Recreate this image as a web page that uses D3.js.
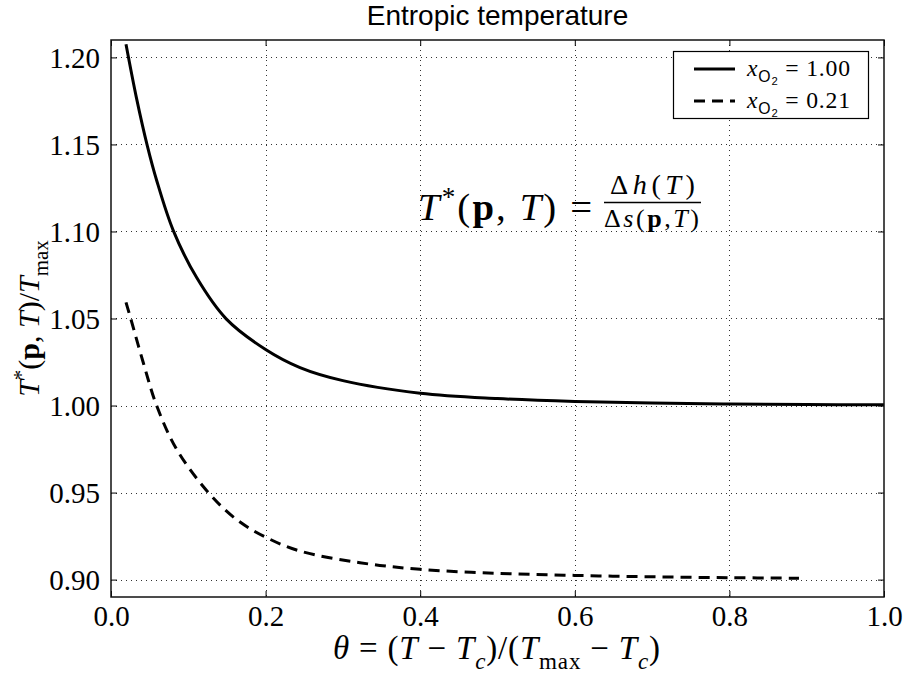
<!DOCTYPE html>
<html>
<head>
<meta charset="utf-8">
<script src="https://cdn.jsdelivr.net/npm/d3@7"></script>
<style>
  body { margin: 0; background: #fff; }
  svg { display: block; }
</style>
</head>
<body>
<script>
// values
const thetaO2 = [0.0194, 0.0332, 0.047, 0.0591, 0.0806, 0.1108, 0.149, 0.2, 0.2445, 0.3, 0.4, 0.5, 0.6, 0.7, 0.8, 0.9, 1.0];
const tempO2 = [1.2076, 1.1762, 1.1492, 1.1293, 1.1005, 1.0735, 1.0498, 1.0322, 1.0218, 1.0143, 1.0071, 1.0040, 1.0023, 1.0014, 1.0009, 1.0006, 1.0004];

const thetaAir = [0.0194, 0.0255, 0.0418, 0.059, 0.085, 0.126, 0.1625, 0.2, 0.2445, 0.322, 0.4, 0.5, 0.6, 0.7, 0.8, 0.89];
const tempAir = [1.0593, 1.05, 1.0246, 1.00, 0.9748, 0.95, 0.9345, 0.9244, 0.9164, 0.9097, 0.9059, 0.9036, 0.9024, 0.9016, 0.9011, 0.9008];

const xTicks = [0.0, 0.2, 0.4, 0.6, 0.8, 1.0];
const yTicks = [0.90, 0.95, 1.00, 1.05, 1.10, 1.15, 1.20];
const legendLabels = ["1.00", "0.21"];

const width = 904, height = 675;
const margin = {top: 40, right: 20, bottom: 78, left: 111};
const serif = "'Liberation Serif', 'Times New Roman', serif";
const sans = "'Liberation Sans', Arial, sans-serif";

const svg = d3.select("body").append("svg")
    .attr("width", width)
    .attr("height", height);

const x = d3.scaleLinear().domain([0, 1]).range([margin.left, width - margin.right]);
const y = d3.scaleLinear().domain([0.89, 1.21]).range([height - margin.bottom, margin.top]);

// writes a run of math-ish text pieces as tspans
function mathText(sel, parts, size) {
  let shift = 0;
  parts.forEach(p => {
    const s = p.size ? p.size : (p.sub || p.sup) ? size * 0.7 : size;
    const target = p.off !== undefined ? p.off : p.sub ? size * 0.3 : p.sup ? -size * 0.36 : 0;
    sel.append("tspan")
      .attr("dy", target - shift)
      .attr("font-size", s)
      .attr("font-style", p.it ? "italic" : "normal")
      .attr("font-weight", p.b ? "bold" : "normal")
      .attr("font-family", p.sans ? sans : serif)
      .text(p.t);
    shift = target;
  });
  return sel;
}

// Computer Modern is wider than Times: grow the text a bit, then pad the rest with spacing
function fit(sel, left, w, grow = 0.6) {
  const node = sel.node();
  const len0 = node.getComputedTextLength();
  const s = 1 + (w / len0 - 1) * grow;
  sel.selectAll("tspan").each(function() {
    const t = d3.select(this);
    t.attr("font-size", +t.attr("font-size") * s).attr("dy", +t.attr("dy") * s);
  });
  const len = node.getComputedTextLength();
  const n = node.textContent.length;
  sel.attr("letter-spacing", (w - len) / Math.max(1, n - 1)).attr("x", left);
  return sel;
}

// grid
const grid = svg.append("g")
    .attr("stroke", "#333")
    .attr("stroke-width", 1)
    .attr("stroke-dasharray", "1,4");
grid.selectAll(".gx").data(xTicks.slice(1, -1)).join("line")
    .attr("x1", d => Math.round(x(d)) + 0.5).attr("x2", d => Math.round(x(d)) + 0.5)
    .attr("y1", margin.top).attr("y2", height - margin.bottom);
grid.selectAll(".gy").data(yTicks).join("line")
    .attr("y1", d => Math.round(y(d)) + 0.5).attr("y2", d => Math.round(y(d)) + 0.5)
    .attr("x1", margin.left).attr("x2", width - margin.right);

// axes: inward ticks on all four sides, like matplotlib
const tickLen = 6;
const xAxisB = d3.axisBottom(x).tickValues(xTicks).tickSize(-tickLen).tickFormat(d3.format(".1f")).tickPadding(12);
const xAxisT = d3.axisTop(x).tickValues(xTicks).tickSize(-tickLen).tickFormat("");
const yAxisL = d3.axisLeft(y).tickValues(yTicks).tickSize(-tickLen).tickFormat(d3.format(".2f")).tickPadding(11);
const yAxisR = d3.axisRight(y).tickValues(yTicks).tickSize(-tickLen).tickFormat("");

function styleAxis(g) {
  g.select(".domain").remove();
  g.selectAll(".tick line").attr("stroke", "#000").attr("stroke-width", 1);
  g.selectAll("text").attr("font-family", serif).attr("font-size", 29).attr("fill", "#000");
}

svg.append("g").attr("transform", `translate(0,${height - margin.bottom})`).call(xAxisB).call(styleAxis)
    .selectAll("text").attr("dy", "0.6em");
svg.append("g").attr("transform", `translate(0,${margin.top})`).call(xAxisT).call(styleAxis);
svg.append("g").attr("transform", `translate(${margin.left},0)`).call(yAxisL).call(styleAxis)
    .selectAll("text").attr("dy", "0.34em");
svg.append("g").attr("transform", `translate(${width - margin.right},0)`).call(yAxisR).call(styleAxis);

// curves
const line = d3.line().x(d => x(d[0])).y(d => y(d[1])).curve(d3.curveCatmullRom.alpha(0.5));

svg.append("path")
    .datum(d3.zip(thetaO2, tempO2))
    .attr("fill", "none")
    .attr("stroke", "#000")
    .attr("stroke-width", 3)
    .attr("d", line);

svg.append("path")
    .datum(d3.zip(thetaAir, tempAir))
    .attr("fill", "none")
    .attr("stroke", "#000")
    .attr("stroke-width", 3)
    .attr("stroke-dasharray", "11,7")
    .attr("d", line);

// frame
svg.append("rect")
    .attr("x", margin.left).attr("y", margin.top)
    .attr("width", width - margin.left - margin.right)
    .attr("height", height - margin.top - margin.bottom)
    .attr("fill", "none")
    .attr("stroke", "#111")
    .attr("stroke-width", 1.5);

// title
svg.append("text")
    .attr("x", (margin.left + width - margin.right) / 2)
    .attr("y", 25)
    .attr("text-anchor", "middle")
    .attr("font-family", sans)
    .attr("font-size", 28)
    .text("Entropic temperature");

// x label
fit(mathText(svg.append("text").attr("y", 659), [
  {t: "θ", it: true}, {t: " = ("}, {t: "T", it: true}, {t: " − "}, {t: "T", it: true},
  {t: "c", it: true, sub: true}, {t: ")/("}, {t: "T", it: true}, {t: "max", sub: true},
  {t: " − "}, {t: "T", it: true}, {t: "c", it: true, sub: true}, {t: ")"}
], 30), 333, 327);

// y label
const yLabel = mathText(svg.append("text")
    .attr("transform", `translate(39,${(margin.top + height - margin.bottom) / 2}) rotate(-90)`)
    .attr("text-anchor", "start"), [
  {t: "T", it: true}, {t: "*", sup: true}, {t: "("}, {t: "p", b: true}, {t: ", "},
  {t: "T", it: true}, {t: ")/"}, {t: "T", it: true}, {t: "max", sub: true}
], 30);
yLabel.attr("x", -yLabel.node().getComputedTextLength() / 2);

// formula annotation
fit(mathText(svg.append("text").attr("y", 220), [
  {t: "T", it: true}, {t: "*", sup: true, off: -12}, {t: "("}, {t: "p", b: true}, {t: ", "},
  {t: "T", it: true}, {t: ") ="}
], 34), 418, 174, 0.5);
svg.append("line")
    .attr("x1", 604).attr("x2", 701).attr("y1", 202.5).attr("y2", 202.5)
    .attr("stroke", "#000").attr("stroke-width", 1.6);
fit(mathText(svg.append("text").attr("y", 194), [
  {t: "Δ"}, {t: "h", it: true}, {t: "("}, {t: "T", it: true}, {t: ")"}
], 22), 610, 85, 0.45);
fit(mathText(svg.append("text").attr("y", 227), [
  {t: "Δ"}, {t: "s", it: true}, {t: "("}, {t: "p", b: true}, {t: ","}, {t: "T", it: true}, {t: ")"}
], 22), 604, 95, 0.45);

// legend
const legend = svg.append("g");
legend.append("rect")
    .attr("x", 673.5).attr("y", 51.5).attr("width", 195).attr("height", 67)
    .attr("fill", "#fff").attr("stroke", "#000").attr("stroke-width", 1.2);
const dashes = [null, "11,7"];
legendLabels.forEach((lab, i) => {
  const ly = 69 + i * 32;
  legend.append("line")
      .attr("x1", 694).attr("x2", 735).attr("y1", ly).attr("y2", ly)
      .attr("stroke", "#000").attr("stroke-width", 3)
      .attr("stroke-dasharray", dashes[i]);
  fit(mathText(legend.append("text").attr("y", ly + 7), [
    {t: "x", it: true}, {t: "O", sans: true, size: 14, off: 5}, {t: "2", sans: true, size: 10, off: 8},
    {t: " = " + lab, off: 0}
  ], 21), 747, 103);
});
</script>
</body>
</html>
